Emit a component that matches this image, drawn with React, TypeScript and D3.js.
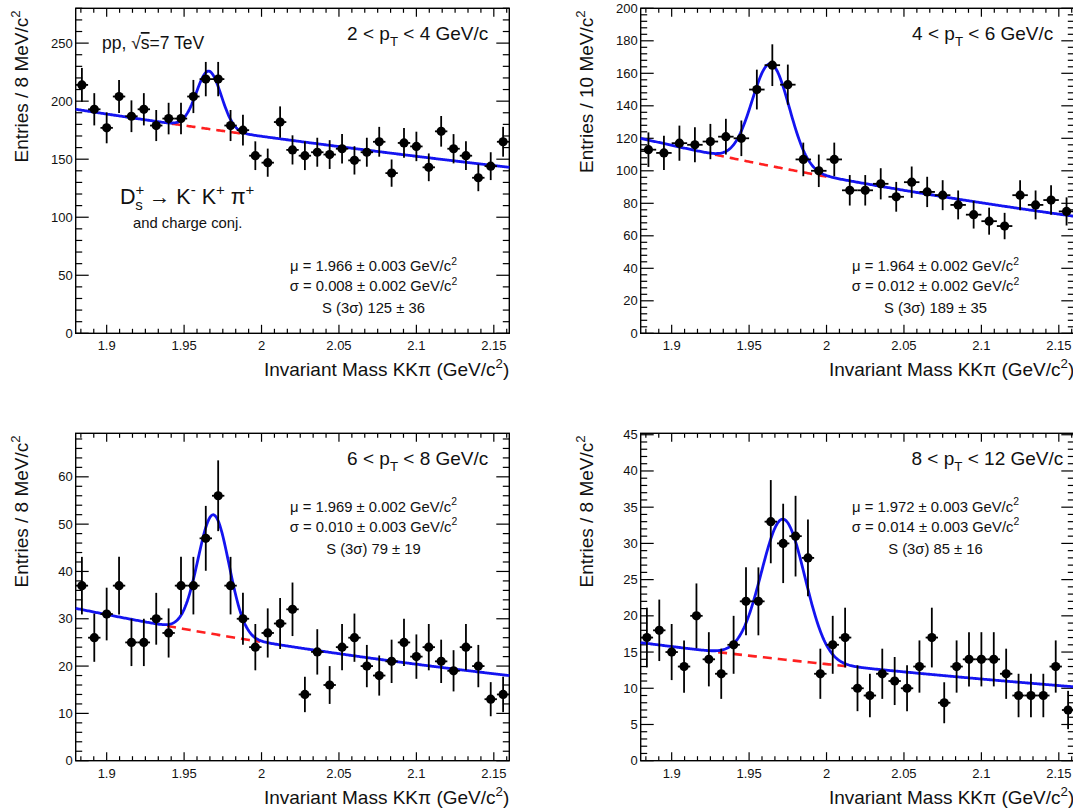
import { useEffect, useRef } from "react";
import * as d3 from "d3";

// invariant mass range of every histogram (GeV/c^2)
const massMin = 1.88;
const massMax = 2.16;

const ptLow = [2, 4, 6, 8];
const ptHigh = [4, 6, 8, 12];
const binWidth = [0.008, 0.01, 0.008, 0.008];
const binLabel = ["8", "10", "8", "8"];

const counts2to4 = [
  214, 193, 177, 204, 187, 193, 179, 185, 185, 204, 219, 219, 179, 175, 153, 147, 182, 158,
  153, 156, 154, 159, 149, 156, 165, 138, 164, 161, 143, 174, 159, 153, 134, 144, 165,
];
const counts4to6 = [
  113, 111, 117, 116, 118, 121, 120, 150, 165, 153, 107, 100, 107, 88, 88, 92, 84, 93, 87, 85,
  79, 73, 69, 66, 85, 79, 82, 75,
];
const counts6to8 = [
  37, 26, 31, 37, 25, 25, 30, 27, 37, 37, 47, 56, 37, 30, 24, 27, 29, 32, 14, 23, 16, 24, 26,
  20, 18, 21, 25, 22, 24, 21, 19, 24, 20, 13, 14,
];
const counts8to12 = [
  17, 18, 15, 13, 20, 14, 12, 16, 22, 22, 33, 30, 31, 28, 12, 16, 17, 10, 9, 12, 11, 10, 13, 17,
  8, 13, 14, 14, 14, 12, 9, 9, 9, 13, 7,
];
const allCounts = [counts2to4, counts4to6, counts6to8, counts8to12];

// fit results shown in each panel
const fitMu = [1.966, 1.964, 1.969, 1.972];
const fitMuErr = ["0.003", "0.002", "0.002", "0.003"];
const fitSigma = [0.008, 0.012, 0.01, 0.014];
const fitSigmaErr = ["0.002", "0.002", "0.003", "0.003"];
const fitYield = [125, 189, 79, 85];
const fitYieldErr = [36, 35, 19, 16];
// exponential background at the two ends of the mass range
const bgLeft = [193, 120, 32.2, 16.3];
const bgRight = [143, 72, 18, 10.2];

const yMax = [280, 200, 69.2, 45.2];
const yStep = [50, 20, 10, 5];

const FONT = "'Liberation Sans', Arial, Helvetica, sans-serif";
const INK = "#111";

type Part = [string, string?, number?];

function rich(
  g: d3.Selection<SVGGElement, unknown, null, undefined>,
  x: number,
  y: number,
  anchor: string,
  size: number,
  parts: Part[]
) {
  const t = g
    .append("text")
    .attr("x", x)
    .attr("y", y)
    .attr("text-anchor", anchor)
    .attr("font-size", size)
    .attr("fill", INK);
  let cur = 0;
  for (const [str, kind = "n", dx] of parts) {
    const target = kind === "sup" ? -0.42 * size : kind === "sub" ? 0.3 * size : 0;
    const ts = t.append("tspan").attr("dy", target - cur).text(str);
    if (kind === "sup" || kind === "sub") ts.attr("font-size", size * 0.7);
    if (kind === "over") ts.style("text-decoration", "overline");
    if (dx) ts.attr("dx", dx);
    cur = target;
  }
  return t;
}

export default function App() {
  const ref = useRef<SVGSVGElement>(null);

  useEffect(() => {
    const svg = d3.select(ref.current!);
    svg.selectAll("*").remove();

    const cols = [75.7, 640.7];
    const rows = [8.3, 433.3];
    const w = 433.6;
    const hs = [325, 327.4];

    allCounts.forEach((counts, p) => {
      const x0 = cols[p % 2];
      const y0 = rows[Math.floor(p / 2)];
      const h = hs[Math.floor(p / 2)];
      const x1 = x0 + w;
      const y1 = y0 + h;
      const bw = binWidth[p];

      const x = d3.scaleLinear().domain([massMin, massMax]).range([x0, x1]);
      const y = d3.scaleLinear().domain([0, yMax[p]]).range([y1, y0]);

      const g = svg.append("g").attr("font-family", FONT);

      // frame
      g.append("rect")
        .attr("x", x0)
        .attr("y", y0)
        .attr("width", w)
        .attr("height", h)
        .attr("fill", "none")
        .attr("stroke", "#000")
        .attr("stroke-width", 1.4);

      // x ticks: majors every 0.05, six subdivisions
      const ticks = g.append("g").attr("stroke", "#000").attr("stroke-width", 1.2);
      d3.range(-2, 32).forEach((k) => {
        const v = 1.9 + (k * 0.05) / 6;
        if (v < massMin || v > massMax) return;
        const len = k % 6 === 0 ? 8.5 : 4.5;
        const px = x(v);
        ticks.append("line").attr("x1", px).attr("x2", px).attr("y1", y1).attr("y2", y1 - len);
        ticks.append("line").attr("x1", px).attr("x2", px).attr("y1", y0).attr("y2", y0 + len);
        if (k % 6 === 0) {
          g.append("text")
            .attr("x", px)
            .attr("y", y1 + 17)
            .attr("text-anchor", "middle")
            .attr("font-size", 13)
            .attr("fill", INK)
            .text(String(+v.toFixed(2)));
        }
      });

      // y ticks: five subdivisions
      const minor = yStep[p] / 5;
      d3.range(0, Math.floor(yMax[p] / minor + 1e-6) + 1).forEach((i) => {
        const v = i * minor;
        const py = y(v);
        const len = i % 5 === 0 ? 13 : 6.5;
        ticks.append("line").attr("x1", x0).attr("x2", x0 + len).attr("y1", py).attr("y2", py);
        ticks.append("line").attr("x1", x1).attr("x2", x1 - len).attr("y1", py).attr("y2", py);
        if (i % 5 === 0) {
          g.append("text")
            .attr("x", x0 - 3)
            .attr("y", py + 4.5)
            .attr("text-anchor", "end")
            .attr("font-size", 13)
            .attr("fill", INK)
            .text(String(Math.round(v)));
        }
      });

      // fit: exponential background + gaussian
      const mu = fitMu[p];
      const sg = fitSigma[p];
      const amp = (fitYield[p] * bw) / (sg * Math.sqrt(2 * Math.PI));
      const bg = (m: number) =>
        bgLeft[p] * Math.pow(bgRight[p] / bgLeft[p], (m - massMin) / (massMax - massMin));
      const total = (m: number) => bg(m) + amp * Math.exp(-((m - mu) ** 2) / (2 * sg * sg));

      const line = d3
        .line<number>()
        .x((m) => x(m))
        .y((m) => y(total(m)));
      const bgLine = d3
        .line<number>()
        .x((m) => x(m))
        .y((m) => y(bg(m)));

      g.append("path")
        .attr("d", bgLine(d3.range(0, 61).map((i) => mu - 3 * sg + (i * 6 * sg) / 60)))
        .attr("fill", "none")
        .attr("stroke", "#ff2020")
        .attr("stroke-width", 2.6)
        .attr("stroke-dasharray", "9,6");

      g.append("path")
        .attr("d", line(d3.range(0, 401).map((i) => massMin + (i * (massMax - massMin)) / 400)))
        .attr("fill", "none")
        .attr("stroke", "#1414f0")
        .attr("stroke-width", 2.8);

      // data points with Poisson errors
      const pts = g.append("g").selectAll("g").data(counts).join("g");
      pts
        .append("line")
        .attr("x1", (_, i) => x(massMin + (i + 0.5) * bw))
        .attr("x2", (_, i) => x(massMin + (i + 0.5) * bw))
        .attr("y1", (d) => y(d - Math.sqrt(d)))
        .attr("y2", (d) => y(d + Math.sqrt(d)))
        .attr("stroke", "#000")
        .attr("stroke-width", 1.8);
      pts
        .append("line")
        .attr("x1", (_, i) => x(massMin + i * bw))
        .attr("x2", (_, i) => x(massMin + (i + 1) * bw))
        .attr("y1", (d) => y(d))
        .attr("y2", (d) => y(d))
        .attr("stroke", "#000")
        .attr("stroke-width", 1.8);
      pts
        .append("circle")
        .attr("cx", (_, i) => x(massMin + (i + 0.5) * bw))
        .attr("cy", (d) => y(d))
        .attr("r", 4.6)
        .attr("fill", "#000");

      // axis titles
      rich(g, x1, y1 + 43, "end", 19, [["Invariant Mass KKπ (GeV/c"], ["2", "sup"], [")"]]);
      const yt = g.append("g").attr("transform", `translate(${x0 - 47.5},${y0 + 2}) rotate(-90)`);
      rich(yt, 0, 0, "end", 19, [[`Entries / ${binLabel[p]} MeV/c`], ["2", "sup"]]);

      // pT bin label
      const ptRight = p === 3 ? x1 - 11 : x1 - 21;
      rich(g, ptRight, y0 + 32, "end", 19, [
        [`${ptLow[p]} < p`],
        ["T", "sub"],
        [` < ${ptHigh[p]} GeV/c`],
      ]);

      // fit results
      const top = Math.floor(p / 2) === 0;
      const cx = x0 + (p % 2 === 0 ? 297.8 : 294.8);
      const by = top ? y0 + 262.7 : y0 + 78.4;
      rich(g, cx, by, "middle", 14.8, [
        [`μ = ${mu.toFixed(3)} ± ${fitMuErr[p]} GeV/c`],
        ["2", "sup"],
      ]);
      rich(g, cx, by + 20, "middle", 14.8, [
        [`σ = ${sg.toFixed(3)} ± ${fitSigmaErr[p]} GeV/c`],
        ["2", "sup"],
      ]);
      rich(g, cx, by + 42, "middle", 14.8, [[`S (3σ) ${fitYield[p]} ± ${fitYieldErr[p]}`]]);

      if (p === 0) {
        rich(g, 102, 49, "start", 17.5, [["pp, √"], ["s", "over"], ["=7 TeV"]]);
        rich(g, 120, 204, "start", 21.5, [
          ["D"],
          ["+", "sup"],
          ["s", "sub", -9],
          [" → K"],
          ["-", "sup"],
          [" K"],
          ["+", "sup"],
          [" π"],
          ["+", "sup"],
        ]);
        rich(g, 133, 228, "start", 14.8, [["and charge conj."]]);
      }
    });
  }, []);

  return (
    <svg
      ref={ref}
      width={1073}
      height={809}
      style={{ position: "absolute", left: 0, top: 0, background: "#fff" }}
    />
  );
}
